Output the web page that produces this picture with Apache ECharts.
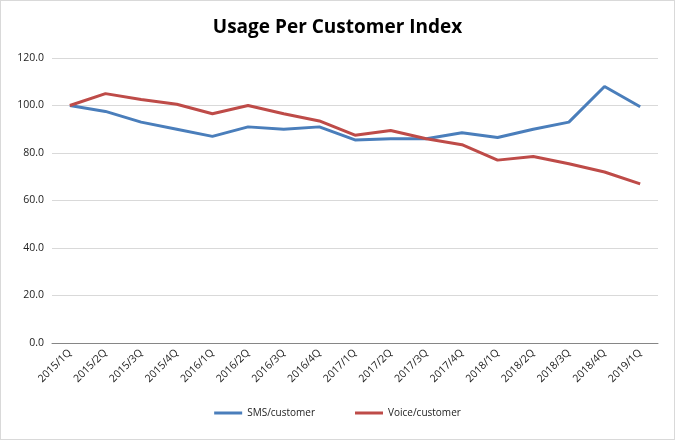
<!DOCTYPE html>
<html><head><meta charset="utf-8">
<script src="https://cdn.jsdelivr.net/npm/echarts@6/dist/echarts.min.js"></script>
<style>html,body{margin:0;padding:0;background:#fff}#c{width:675px;height:440px;box-sizing:border-box;border:1px solid #d9d9d9}</style>
</head><body><div id="c"></div>
<script>
const categories = ["2015/1Q","2015/2Q","2015/3Q","2015/4Q","2016/1Q","2016/2Q","2016/3Q","2016/4Q","2017/1Q","2017/2Q","2017/3Q","2017/4Q","2018/1Q","2018/2Q","2018/3Q","2018/4Q","2019/1Q"];
const smsValues = [100,97.5,93,90,87,91,90,91,85.5,86,86,88.5,86.5,90,93,108,99.5];
const voiceValues = [100,105,102.5,100.5,96.5,100,96.5,93.5,87.5,89.5,86,83.5,77,78.5,75.5,72,67];
const chart = echarts.init(document.getElementById('c'));
chart.setOption({
  animation:false,
  title:{text:'Usage Per Customer Index',left:'center',top:12,textStyle:{fontFamily:'Open Sans',fontSize:19,fontWeight:'bold',color:'#000'}},
  grid:{left:51,right:16,top:57,bottom:96},
  legend:{bottom:16,itemGap:40,icon:'rect',itemWidth:28,itemHeight:3,textStyle:{fontFamily:'Open Sans',fontSize:10,color:'#222'}},
  xAxis:{type:'category',data:categories,boundaryGap:true,
    axisLine:{lineStyle:{color:'#868686'}},axisTick:{show:false},
    axisLabel:{rotate:45,fontSize:10.5,color:'#222',fontFamily:'Open Sans',interval:0}},
  yAxis:{type:'value',min:0,max:120,interval:20,
    axisLine:{show:false},axisTick:{show:false},
    axisLabel:{formatter:v=>v.toFixed(1),fontSize:10.5,color:'#222',fontFamily:'Open Sans'},
    splitLine:{lineStyle:{color:'#d9d9d9'}}},
  series:[
    {name:'SMS/customer',type:'line',data:smsValues,symbol:'none',lineStyle:{width:3,color:'#4a7ebb'},itemStyle:{color:'#4a7ebb'}},
    {name:'Voice/customer',type:'line',data:voiceValues,symbol:'none',lineStyle:{width:3,color:'#be4b48'},itemStyle:{color:'#be4b48'}}
  ]
});
</script></body></html>
